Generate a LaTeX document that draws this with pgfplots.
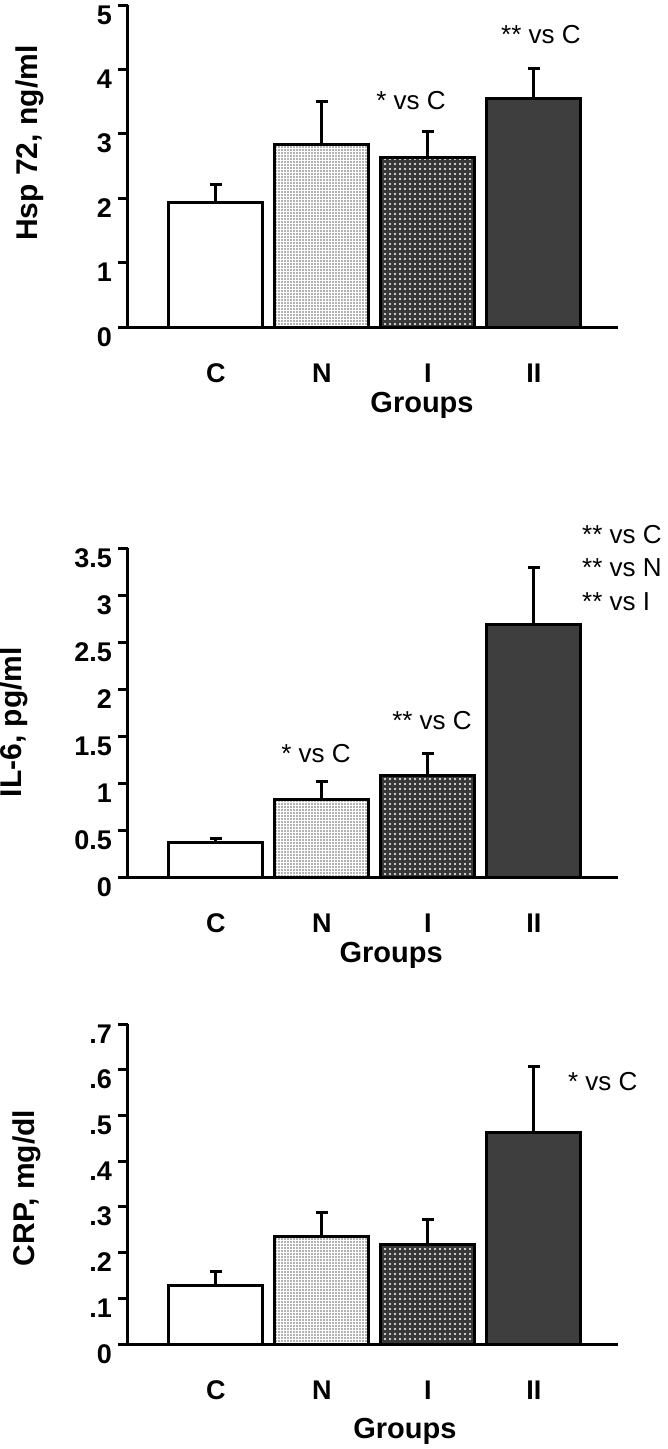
\documentclass[border=0pt]{standalone}
\usepackage{fontspec}
\setmainfont{Liberation Sans}
\usepackage{pgfplots}
\pgfplotsset{compat=1.18}
\usetikzlibrary{patterns.meta}
\definecolor{barII}{HTML}{3E3E3E}
\definecolor{barI}{HTML}{383838}
\tikzset{annot/.style={font=\fontsize{26}{26}\selectfont, inner sep=0pt}}
\pgfplotsset{
  panel/.style={
    scale only axis, width=490pt,
    xmin=0.17, xmax=4.793, ymin=0,
    axis x line*=bottom, axis y line*=left,
    axis line style={-, line width=3pt},
    tick align=outside, major tick length=10pt,
    ytick style={line width=3pt, black},
    xtick={1,2,3,4}, xticklabels={C,N,I,II}, xtick style={draw=none},
    ticklabel style={font=\bfseries\fontsize{27}{27}\selectfont, inner sep=0pt},
    xticklabel style={anchor=base, yshift=-45pt},
    yticklabel style={anchor=base east, yshift=-19pt, xshift=-6pt},
    ylabel style={font=\bfseries\fontsize{30}{30}\selectfont, anchor=center, rotate=0},
    xlabel style={font=\bfseries\fontsize{29}{29}\selectfont, anchor=base},
    ybar, bar width=94pt,
    clip=false,
  },
  errbar/.style={error bars/.cd, y dir=plus, y explicit,
    error bar style={line width=3pt, black},
    error mark options={rotate=90, mark size=6pt, line width=3pt, black}},
  barC/.style={fill=white, draw=black, line width=3pt, bar shift=0pt, errbar},
  barN/.style={preaction={fill=white}, pattern={Dots[distance=3pt, radius=0.9pt]}, pattern color=black!60, draw=black, line width=3pt, bar shift=0pt, errbar},
  barI/.style={preaction={fill=barI}, pattern={Dots[distance=5pt, radius=1.1pt]}, pattern color=white, draw=black, line width=3pt, bar shift=0pt, errbar},
  barII/.style={fill=barII, draw=black, line width=3pt, bar shift=0pt, errbar},
}
\begin{document}
\begin{tikzpicture}
\path[use as bounding box] (0pt,0pt) rectangle (667pt,-1449pt);

% Panel 1: Hsp 72
\begin{axis}[panel, at={(128pt,-327pt)}, anchor=south west, height=322pt,
  ymax=5, ytick={0,1,2,3,4,5}, yticklabels={0,1,2,3,4,5},
  ylabel={Hsp 72, ng/ml}, ylabel style={at={(rel axis cs:-0.20,0.571)}},
  xlabel={Groups}, xlabel style={at={(rel axis cs:0.6,-0.264)}}]
\addplot[barC] coordinates {(1,1.93) +- (0,0.28)};
\addplot[barN] coordinates {(2,2.84) +- (0,0.66)};
\addplot[barI] coordinates {(3,2.63) +- (0,0.41)};
\addplot[barII] coordinates {(4,3.55) +- (0,0.46)};
\node[annot, anchor=base] at (axis cs:2.84,3.37) {* vs C};
\node[annot, anchor=base] at (axis cs:4.066,4.41) {** vs C};
\end{axis}

% Panel 2: IL-6
\begin{axis}[panel, at={(128pt,-877pt)}, anchor=south west, height=329pt,
  ymax=3.5, ytick={0,0.5,1,1.5,2,2.5,3,3.5}, yticklabels={0,0.5,1,1.5,2,2.5,3,3.5},
  ylabel={IL-6, pg/ml}, ylabel style={at={(rel axis cs:-0.233,0.471)}},
  xlabel={Groups}, xlabel style={at={(rel axis cs:0.537,-0.261)}}]
\addplot[barC] coordinates {(1,0.37) +- (0,0.04)};
\addplot[barN] coordinates {(2,0.82) +- (0,0.20)};
\addplot[barI] coordinates {(3,1.085) +- (0,0.225)};
\addplot[barII] coordinates {(4,2.69) +- (0,0.60)};
\node[annot, anchor=base] at (axis cs:1.944,1.213) {* vs C};
\node[annot, anchor=base] at (axis cs:3.038,1.564) {** vs C};
\node[annot, anchor=base west] at (axis cs:4.453,3.553) {** vs C};
\node[annot, anchor=base west] at (axis cs:4.453,3.20) {** vs N};
\node[annot, anchor=base west] at (axis cs:4.453,2.84) {** vs I};
\end{axis}

% Panel 3: CRP
\begin{axis}[panel, at={(128pt,-1344pt)}, anchor=south west, height=320pt,
  ymax=0.7, ytick={0,0.1,0.2,0.3,0.4,0.5,0.6,0.7}, yticklabels={0,.1,.2,.3,.4,.5,.6,.7},
  ylabel={CRP, mg/dl}, ylabel style={at={(rel axis cs:-0.206,0.4875)}},
  xlabel={Groups}, xlabel style={at={(rel axis cs:0.565,-0.294)}}]
\addplot[barC] coordinates {(1,0.127) +- (0,0.031)};
\addplot[barN] coordinates {(2,0.236) +- (0,0.051)};
\addplot[barI] coordinates {(3,0.218) +- (0,0.054)};
\addplot[barII] coordinates {(4,0.462) +- (0,0.146)};
\node[annot, anchor=base west] at (axis cs:4.321,0.554) {* vs C};
\end{axis}
\end{tikzpicture}
\end{document}
